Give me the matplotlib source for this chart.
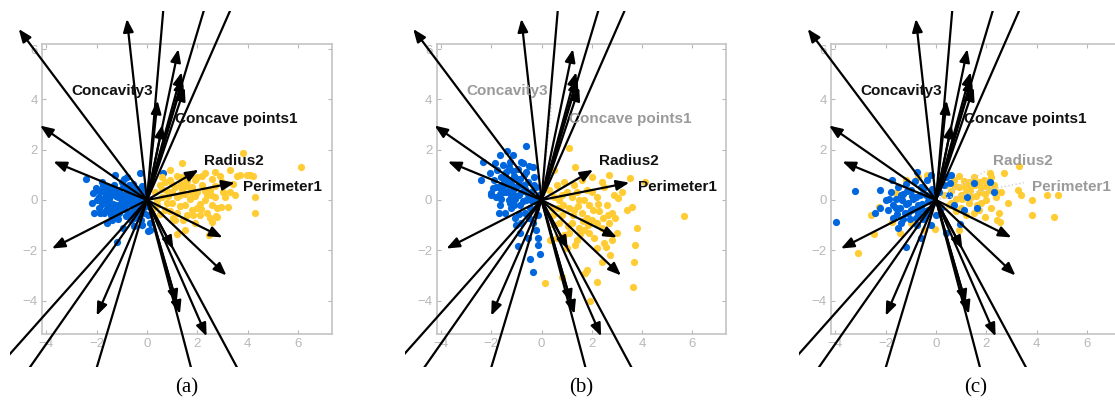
import matplotlib
matplotlib.use("Agg")
import matplotlib.pyplot as plt
from matplotlib.patches import FancyArrowPatch

# loading vectors (same in every panel)
load_x = [-5.1, -0.8, 0.78, 2.7, 3.95, 1.25, 1.38, 1.42, 1.5, 0.42, 0.62,
          -4.25, -3.72, -3.78, 2.05, 3.49, 3.0, 3.16, 1.05, -2.0, 1.31, 1.18,
          2.37, -6.5, -5.6, -2.4, 2.1, 4.3]
load_y = [6.8, 7.2, 9.1, 9.0, 9.0, 6.0, 5.08, 4.85, 4.47, 3.95, 3.0,
          2.96, 1.53, -1.93, 1.2, 0.69, -1.49, -3.0, -1.95, -4.6, -4.53, -4.1,
          -5.42, -7.3, -8.0, -8.0, -8.0, -8.0]
names = ["Concavity3", "Concave points1", "Radius2", "Perimeter1"]
name_idx = [9, 10, 14, 15]
name_x = [-3.0, 1.11, 2.28, 3.82]
name_y = [4.33, 3.24, 1.56, 0.53]
faded = [[], ["Concavity3", "Concave points1"], ["Radius2", "Perimeter1"]]
captions = ["(a)", "(b)", "(c)"]

# panel (a)
a_blue_x = [-2.42, -2.02, -2.13, -2.2, -2.1, -1.27, -0.8, -0.28, 0.65, -1.8, -0.94, 0.12,
            -0.21, -1.2, 0.05, -0.5, -1.6, -0.9,
            -1.9, -1.9, -1.8, -1.75, -1.7, -1.65, -1.6, -1.55, -1.5, -1.45, -1.4, -1.35,
            -1.3, -1.25, -1.2, -1.15, -1.1, -1.05, -1.0, -0.95, -0.9, -0.85, -0.8, -0.75,
            -0.7, -0.65, -0.6, -0.55, -0.5, -0.45, -0.4, -0.35, -0.3, -0.25, -0.2, -0.15,
            -0.1, -1.7, -1.45, -1.3, -1.6, -1.25, -1.1, -1.0, -0.95, -0.7, -0.6, -0.5,
            -0.4, -1.5, -1.85, -2.0, -1.2, -0.85, -0.3, -0.65, -1.4, -0.15, 0.05, 0.1,
            -1.8, -1.55, -1.35, -1.15, -0.95, -0.75, -0.55, -0.35, -1.65, -1.45, -1.05,
            -0.8, -0.45, -1.75, -1.25, -0.6, -1.9, -1.5, -1.0, -0.2, -0.05, -1.35]
a_blue_y = [0.82, 0.47, 0.27, -0.13, -0.53, 1.0, 0.93, 1.07, 1.07, 0.73, -1.13, -1.2,
            -1.0, -1.67, -1.25, -1.05, -0.9, 0.85,
            0.1, -0.3, 0.35, -0.1, -0.5, 0.2, 0.5, -0.25, 0.05, -0.6, 0.35, -0.15,
            0.6, 0.15, -0.4, -0.75, 0.4, -0.1, 0.7, 0.2, -0.35, -0.65, 0.45, 0.0,
            -0.5, 0.3, -0.2, 0.65, -0.7, 0.1, 0.45, -0.35, 0.2, -0.8, 0.55, -0.1,
            -0.5, 0.05, 0.2, -0.3, -0.15, -0.6, -0.5, -0.25, 0.5, 0.6, 0.1, -0.4,
            -0.15, 0.45, -0.5, 0.0, 0.35, 0.1, -0.55, -0.8, -0.8, 0.3, -0.6, -0.9,
            -0.15, 0.3, 0.45, 0.1, -0.05, 0.25, 0.35, 0.0, -0.4, -0.35, 0.2,
            -0.15, -0.55, 0.55, -0.2, 0.0, 0.35, -0.45, 0.05, 0.1, -0.25, -0.6]
a_yel_x = [1.38, 3.82, 6.14, 4.29, 4.29, 3.29, 4.09, 3.69, 3.96, 3.56, 4.22, 3.29, 3.03,
           3.23, 2.96, 2.57, 2.77, 1.84, 2.47, 1.44, 1.04, 2.3, 2.7, 1.18, 1.5, 2.74, 0.9, 0.6,
           0.3, 0.4, 0.5, 0.6, 0.7, 0.8, 0.9, 1.0, 1.1, 1.2, 1.3, 1.4, 1.5, 1.6, 1.7, 1.8,
           1.9, 2.0, 2.1, 2.2, 2.3, 2.4, 2.5, 2.6, 2.7, 2.8, 0.5, 0.9, 1.2, 1.6, 2.0, 2.4,
           1.0, 1.4, 1.8, 2.2, 0.7, 1.1, 2.1, 2.6, 3.0, 2.9, 1.9, 1.3, 0.8, 1.7, 2.5, 0.2,
           0.6, 1.0, 1.5, 1.9, 2.3, 2.7, 1.2, 1.6, 2.0, 0.4, 0.85, 1.35, 1.75, 2.15, 2.55,
           3.1, 3.4, 3.5]
a_yel_y = [1.49, 1.87, 1.33, 0.11, -0.53, 1.2, 1.0, 1.0, 1.0, 0.96, 0.96, 0.33, 0.33,
           -0.27, -0.27, -0.87, -0.67, -0.6, -1.4, -0.8, -0.73, 1.07, 1.13, -1.36, -1.2, -0.64, 1.2, 0.9,
           0.3, -0.2, 0.6, 0.1, -0.4, 0.35, 0.8, -0.1, 0.5, -0.5, 0.2, 0.9, -0.2, 0.55, 0.05, -0.4,
           0.8, 0.3, -0.15, 0.6, 0.0, -0.5, 0.4, 0.85, 0.1, -0.3, -0.55, -0.45, 0.95, -0.6, 0.9, 0.2,
           0.3, 0.45, 0.5, 0.95, 0.7, -0.8, -0.6, -0.2, 0.7, 0.95, -0.9, -0.25, -0.1, 1.0, -0.7, -0.4,
           0.45, 0.65, 0.25, 0.15, 0.35, 0.55, 0.1, 0.75, -0.3, 0.0, 0.15, 0.65, 0.3, -0.35, 0.2,
           0.1, 0.65, 0.2]

# panel (b)
b_blue_x = [-0.6, -1.65, -1.85, -2.32, -1.39, -1.13, -2.05, -2.0, -1.92, -0.86, -0.93, -0.46,
            -0.33, -0.13, -0.13, -0.04, -0.73, -0.33, -2.4, -0.2, -0.55,
            -1.9, -1.8, -1.75, -1.7, -1.65, -1.6, -1.55, -1.5, -1.45, -1.4, -1.35, -1.3,
            -1.25, -1.2, -1.15, -1.1, -1.05, -1.0, -0.95, -0.9, -0.85, -0.8, -0.75, -0.7,
            -0.65, -0.6, -0.55, -0.5, -0.45, -0.4, -0.35, -0.3, -0.25, -0.2, -0.15, -0.1,
            -1.6, -1.3, -1.0, -0.9, -1.2, -1.4, -0.7, -1.1, -1.5, -1.8, -0.8, -1.0, -0.5,
            -1.3, -0.6, -1.7, -0.3, -2.0,
            -1.55, -1.2, -0.85, -0.55, -1.35, -1.05, -0.75, -1.65, -0.95, -1.15, -0.4,
            -1.45, -0.65, -1.25, -0.9, -1.6, -0.5, -0.2]
b_blue_y = [2.16, 1.8, 1.47, 1.51, 1.93, 1.8, 1.07, 0.27, 0.47, -1.33, -1.84, -2.33,
            -2.87, -1.53, -1.8, -2.13, 1.47, 1.33, 0.8, -1.2, -1.5,
            0.8, 0.1, 1.2, 0.5, -0.2, 0.9, 1.4, 0.3, -0.5, 1.1, 0.65, 0.0,
            1.5, -0.3, 0.4, 0.95, -0.7, 0.15, 1.25, 0.6, -0.2, -0.9, 0.35, 1.0,
            -0.5, 0.0, 0.7, 1.35, -0.3, 0.3, -0.9, 0.9, -0.05, 0.5, -0.6, 0.2,
            0.05, 0.8, 0.5, -0.55, 0.2, 0.3, 0.6, -0.2, 0.7, 0.5, 1.5, -1.0, -0.7,
            1.3, 1.1, -0.5, 0.6, 0.2,
            0.55, 0.65, 0.85, 0.25, 0.35, 0.05, -0.05, 0.25, 0.85, 1.15, 0.0,
            0.95, 0.45, -0.1, 0.2, 0.45, 0.15, -0.3]
b_yel_x = [1.1, 1.33, 2.69, 3.52, 3.19, 3.05, 3.39, 3.58, 3.78, 3.72, 3.68, 3.62, 5.65,
           2.19, 1.92, 2.71, 2.58, 2.91, 1.79, 1.33, 1.73, 0.13, 0.8, 4.1, 0.33, 2.4, 3.0,
           0.5, 2.0,
           0.3, 0.4, 0.5, 0.6, 0.7, 0.8, 0.9, 1.0, 1.1, 1.2, 1.3, 1.4, 1.5, 1.6, 1.7, 1.8,
           1.9, 2.0, 2.1, 2.2, 2.3, 2.4, 2.5, 2.6, 2.7, 2.8, 2.9, 1.0, 1.5, 2.2, 0.6, 1.2,
           1.8, 2.4, 0.9, 1.6, 2.8, 1.3, 2.0, 0.5, 1.9, 2.6, 1.1, 0.8, 1.4, 2.2, 1.7, 2.5, 0.7,
           0.45, 0.85, 1.25, 1.65, 2.05, 2.45, 1.05, 1.45, 1.85, 2.25, 0.65, 1.55, 2.65]
b_yel_y = [2.07, 1.33, 1.0, 0.87, 0.33, 0.07, -0.4, -0.27, -1.13, -1.8, -2.47, -3.44, -0.64,
           -3.27, -4.0, -2.2, -1.87, -0.73, -2.8, -1.8, -2.9, -3.31, -3.07, 0.73, -1.6, -2.45, -1.3,
           1.2, 0.9,
           0.4, -0.3, -1.0, 0.6, 0.0, -0.6, -1.4, 0.3, -0.3, -0.9, 0.6, -1.6, 0.0, -0.5, -1.2, 0.4,
           -0.2, -0.8, -1.5, 0.1, -0.45, -1.1, 0.5, -0.2, -0.9, -1.6, 0.2, -1.9, -1.1, -1.9, -1.5, 0.1,
           -0.7, 0.7, 0.7, 0.8, -0.5, -0.4, 0.3, 0.1, -1.3, -1.3, -1.3, 0.2, 0.3, -0.9, 0.0, -1.7, -0.9,
           -0.6, -0.2, -0.6, -0.85, -0.4, -0.7, -1.05, -0.25, -1.0, -0.15, -0.3, -1.35, -0.6]

# panel (c)
c_blue_x = [-3.96, -3.21, -2.22, -1.75, -2.41, -2.21, -1.2, -0.75, 2.16, 1.5, 1.23, 1.63,
            0.57, 1.1, 0.96, -0.2, 0.4, -0.6, -1.5, 0.6, 2.3,
            -2.0, -1.9, -1.8, -1.7, -1.6, -1.5, -1.45, -1.4, -1.3, -1.25, -1.2, -1.1,
            -1.05, -1.0, -0.9, -0.85, -0.8, -0.75, -0.7, -0.6, -0.55, -0.5, -0.4, -0.35,
            -0.3, -0.2, -0.15, -0.1, 0.0, 0.1, 0.2, 0.3, -1.7, -1.35, -1.0, -0.65, -1.55,
            -0.95, -0.45, -1.15, -0.25, -1.85, -0.8, 0.5, 0.7, 0.4,
            -1.6, -1.2, -0.9, -0.6, -0.3, -1.4, -1.1, -0.7, -0.4, -1.3, -0.5, -0.05]
c_blue_y = [-0.87, 0.37, 0.4, 0.8, -0.53, -0.33, -1.87, 1.13, 0.73, 0.67, 0.13, -0.33,
            0.67, -0.4, -0.95, 1.0, -1.3, -1.5, -1.1, 1.0, 0.3,
            0.0, -0.4, 0.3, -0.7, 0.05, 0.5, -0.3, -0.9, 0.25, -0.5, 0.65, -0.1,
            -0.75, 0.4, -0.35, 0.75, 0.1, -1.0, -0.5, 0.5, -0.15, -0.75, 0.2, 0.8,
            -0.4, -1.0, 0.45, -0.1, -0.6, 0.3, -0.3, 0.6, -0.2, 0.0, -0.4, 0.2, -0.55,
            0.15, -0.45, 0.35, 0.15, 0.05, -0.7, 0.2, -0.2, 0.9,
            -0.3, -0.15, 0.05, -0.3, -0.05, 0.2, -0.5, -0.2, -0.6, -0.75, 0.45, 0.25]
c_yel_x = [-3.11, -0.36, -2.47, -2.28, -1.61, -1.42, -0.49, -0.03, -1.75, 2.13, 2.69, 3.29,
           3.25, 3.36, 3.82, 4.4, 4.86, 3.82, 4.69, 2.85, 2.56, 2.43, 1.96, 0.9, -1.0, -2.6,
           -1.2, -0.7,
           0.3, 0.4, 0.5, 0.6, 0.7, 0.8, 0.9, 1.0, 1.1, 1.2, 1.3, 1.4, 1.5, 1.6, 1.7, 1.8,
           1.9, 2.0, 2.1, 2.2, 2.3, 2.4, 2.5, 1.0, 1.3, 1.7, 2.0, 1.5, 0.8, 1.2, 2.2, 1.8,
           0.6, 2.6, 1.4, 0.9,
           1.15, 1.55, 1.95, 2.35, 0.75, 1.35, 1.75, 2.15, 1.05, 1.65]
c_yel_y = [-2.1, 1.0, -1.36, -0.27, 0.27, -1.33, -1.2, -1.17, -0.87, 1.07, 1.07, 1.36,
           0.4, 0.2, 0.0, 0.2, 0.2, -0.6, -0.67, -0.13, -0.87, -0.8, -0.67, -1.2, -0.9, -0.6,
           0.8, 0.9,
           0.2, 0.6, -0.2, 0.35, 0.8, 0.05, 0.5, -0.3, 0.75, 0.3, -0.1, 0.55, 0.9, 0.15, -0.4, 0.5,
           0.8, 0.0, 0.4, -0.3, 0.6, 0.1, -0.5, 0.2, 0.7, 0.7, 0.55, -0.5, -0.45, -0.6, 0.9, -0.1,
           -0.1, 0.3, 0.1, 0.95,
           0.5, 0.6, 0.25, 0.35, 0.55, 0.35, 0.3, 0.7, 0.05, -0.2]

panels = [
    (a_blue_x, a_blue_y, a_yel_x, a_yel_y),
    (b_blue_x, b_blue_y, b_yel_x, b_yel_y),
    (c_blue_x, c_blue_y, c_yel_x, c_yel_y),
]

W, H = 1115, 403
S = 25.15          # pixels per data unit
BLUE = "#0066dd"
YELLOW = "#ffcc33"
GRAY = "#b8b8b8"

fig = plt.figure(figsize=(W / 100, H / 100), dpi=100)


def px_axes(left, top, w, h):
    return fig.add_axes([left / W, 1 - (top + h) / H, w / W, h / H])


for k, (bx, by, yx, yy) in enumerate(panels):
    L = 42 + k * 394.5
    ax = px_axes(L, 44, 290, 290)
    ax.set_xlim(-105 / S, 185 / S)
    ax.set_ylim(-134 / S, 156 / S)
    if k == 2:
        ax.scatter(yx, yy, s=27, color=YELLOW, linewidths=0, zorder=2)
        ax.scatter(bx, by, s=27, color=BLUE, linewidths=0, zorder=2)
    else:
        ax.scatter(bx, by, s=27, color=BLUE, linewidths=0, zorder=2)
        ax.scatter(yx, yy, s=27, color=YELLOW, linewidths=0, zorder=2)
    ax.set_xticks([-4, -2, 0, 2, 4, 6])
    ax.set_yticks([-4, -2, 0, 2, 4, 6])
    ax.tick_params(direction="in", length=3, width=0.8, color=GRAY, labelcolor=GRAY,
                   labelsize=9.5, top=True, right=True, pad=3)
    for lab in ax.get_xticklabels() + ax.get_yticklabels():
        lab.set_family("Liberation Sans")
    for sp in ax.spines.values():
        sp.set_color("#c4c4c4")
        sp.set_linewidth(1.2)

    # overlay with the same scale, larger clip region for the arrows
    ov = px_axes(L - 32, 11, 362, 356)
    ov.set_xlim(-137 / S, 225 / S)
    ov.set_ylim(-167 / S, 189 / S)
    ov.axis("off")

    fade_idx = [name_idx[names.index(n)] for n in faded[k]]
    for i, (x, y) in enumerate(zip(load_x, load_y)):
        if i in fade_idx:
            ov.plot([0, x], [0, y], color="#cfcfcf", lw=1.0, ls=":", zorder=4)
            continue
        arr = FancyArrowPatch((0, 0), (x, y),
                              arrowstyle="-|>,head_length=0.7,head_width=0.28",
                              mutation_scale=11, lw=1.6, color="black",
                              shrinkA=0, shrinkB=0, zorder=5)
        ov.add_patch(arr)

    for n, tx, ty in zip(names, name_x, name_y):
        col = "#9a9a9a" if n in faded[k] else "#111111"
        ov.text(tx, ty, n, ha="left", va="center", fontsize=11, fontweight="bold",
                family="Liberation Sans", color=col, zorder=6)

    fig.text((L + 145) / W, 1 - 388 / H, captions[k], ha="center", va="center",
             fontsize=15, family="Liberation Serif")

fig.savefig("out.png", dpi=100)
